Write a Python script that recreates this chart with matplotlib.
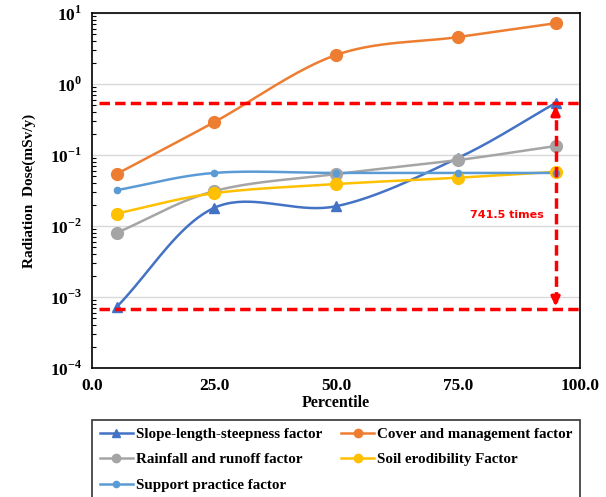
import numpy as np
import matplotlib.pyplot as plt
from matplotlib.lines import Line2D

plt.rcParams['font.family'] = ['Liberation Serif', 'DejaVu Serif']
plt.rcParams['font.weight'] = 'bold'
plt.rcParams['mathtext.fontset'] = 'custom'
plt.rcParams['mathtext.rm'] = 'Liberation Serif:bold'
plt.rcParams['mathtext.bf'] = 'Liberation Serif:bold'

# Data
percentile = [5, 25, 50, 75, 95]
slope_length = [0.00072, 0.018, 0.019, 0.091, 0.54]
cover_mgmt = [0.054, 0.29, 2.57, 4.6, 7.2]
rainfall = [0.0080, 0.031, 0.054, 0.085, 0.134]
soil_erod = [0.015, 0.029, 0.039, 0.048, 0.058]
support = [0.032, 0.056, 0.056, 0.056, 0.056]

upper_ref = 0.54
lower_ref = 0.00068
ratio_text = '741.5 times'


def smooth(x, y, n=40):
    # Catmull-Rom curve through the points, in log space (like Excel smoothed line)
    x = np.asarray(x, float)
    ly = np.log10(np.asarray(y, float))
    px = np.concatenate([[2 * x[0] - x[1]], x, [2 * x[-1] - x[-2]]])
    py = np.concatenate([[2 * ly[0] - ly[1]], ly, [2 * ly[-1] - ly[-2]]])
    xs, ys = [], []
    for i in range(1, len(px) - 2):
        t = np.linspace(0, 1, n)
        for arr, out in ((px, xs), (py, ys)):
            p0, p1, p2, p3 = arr[i - 1], arr[i], arr[i + 1], arr[i + 2]
            out.extend(0.5 * ((2 * p1) + (-p0 + p2) * t +
                              (2 * p0 - 5 * p1 + 4 * p2 - p3) * t ** 2 +
                              (-p0 + 3 * p1 - 3 * p2 + p3) * t ** 3))
    return np.array(xs), 10 ** np.array(ys)


fig = plt.figure(figsize=(6.06, 4.97), dpi=100)
ax = fig.add_axes([0.152, 0.2596, 0.805, 0.714])

series = [
    ('Slope-length-steepness factor', slope_length, '#4472C4', '^', 7),
    ('Cover and management factor', cover_mgmt, '#ED7D31', 'o', 8.5),
    ('Rainfall and runoff factor', rainfall, '#A5A5A5', 'o', 8.5),
    ('Soil erodibility Factor', soil_erod, '#FFC000', 'o', 8.5),
    ('Support practice factor', support, '#5B9BD5', 'o', 4.5),
]

handles = {}
for name, vals, col, mk, ms in series:
    sx, sy = smooth(percentile, vals)
    ax.plot(sx, sy, color=col, lw=1.8, zorder=3)
    ax.plot(percentile, vals, ls='none', marker=mk, ms=ms, color=col, zorder=4)
    handles[name] = Line2D([], [], color=col, lw=1.8, marker=mk, ms=min(ms, 6))

# reference lines and arrow
ax.hlines([upper_ref, lower_ref], 1.5, 100, colors='#FF0000', lw=2.5,
          linestyles=(0, (3, 1.5)), zorder=5)
ax.vlines(95, lower_ref * 1.25, upper_ref / 1.25, colors='#FF0000', lw=2.5,
          linestyles=(0, (3, 1.5)), zorder=5)
for start, end in ((upper_ref / 1.5, upper_ref), (lower_ref * 1.5, lower_ref)):
    ax.annotate('', xy=(95, end), xytext=(95, start),
                arrowprops=dict(arrowstyle='-|>,head_width=0.25,head_length=0.5',
                                color='#FF0000', lw=2.5), zorder=6)
ax.text(85, 0.0143, ratio_text, color='#FF0000', fontsize=8, fontweight='bold',
        family='DejaVu Sans', ha='center', va='center')

ax.set_yscale('log')
ax.set_ylim(1e-4, 10)
ax.set_xlim(0, 100)
ax.set_xticks([0, 25, 50, 75, 100])
ax.set_xticklabels(['0.0', '25.0', '50.0', '75.0', '100.0'])
ax.set_yticks([1e-4, 1e-3, 1e-2, 1e-1, 1, 10])
ax.set_yticklabels(['$10^{-4}$', '$10^{-3}$', '$10^{-2}$', '$10^{-1}$', '$10^{0}$', '$10^{1}$'])
ax.tick_params(axis='both', labelsize=12.5, length=0, pad=7)
ax.tick_params(axis='y', which='minor', direction='in', length=3, width=0.8)
ax.grid(axis='y', which='major', color='#D9D9D9', lw=1, zorder=0)
for s in ax.spines.values():
    s.set_color('black')
    s.set_linewidth(1.2)

ax.set_xlabel('Percentile', fontsize=11.5, fontweight='bold', labelpad=1)
ax.set_ylabel('Radiation  Dose(mSv/y)', fontsize=11, fontweight='bold', labelpad=10)

order = ['Slope-length-steepness factor', 'Rainfall and runoff factor',
         'Support practice factor', 'Cover and management factor',
         'Soil erodibility Factor']
leg = ax.legend([handles[k] for k in order], order, ncol=2, loc='upper left',
                bbox_to_anchor=(0.0, -0.446, 1.0, 0.3), mode='expand',
                borderaxespad=0, fancybox=False, edgecolor='black',
                prop={'size': 10.8, 'weight': 'bold'}, handlelength=2.2,
                handletextpad=0.2, labelspacing=0.8, borderpad=0.5,
                columnspacing=1.0)
leg.get_frame().set_linewidth(1.2)

fig.savefig('out.png', dpi=100)
